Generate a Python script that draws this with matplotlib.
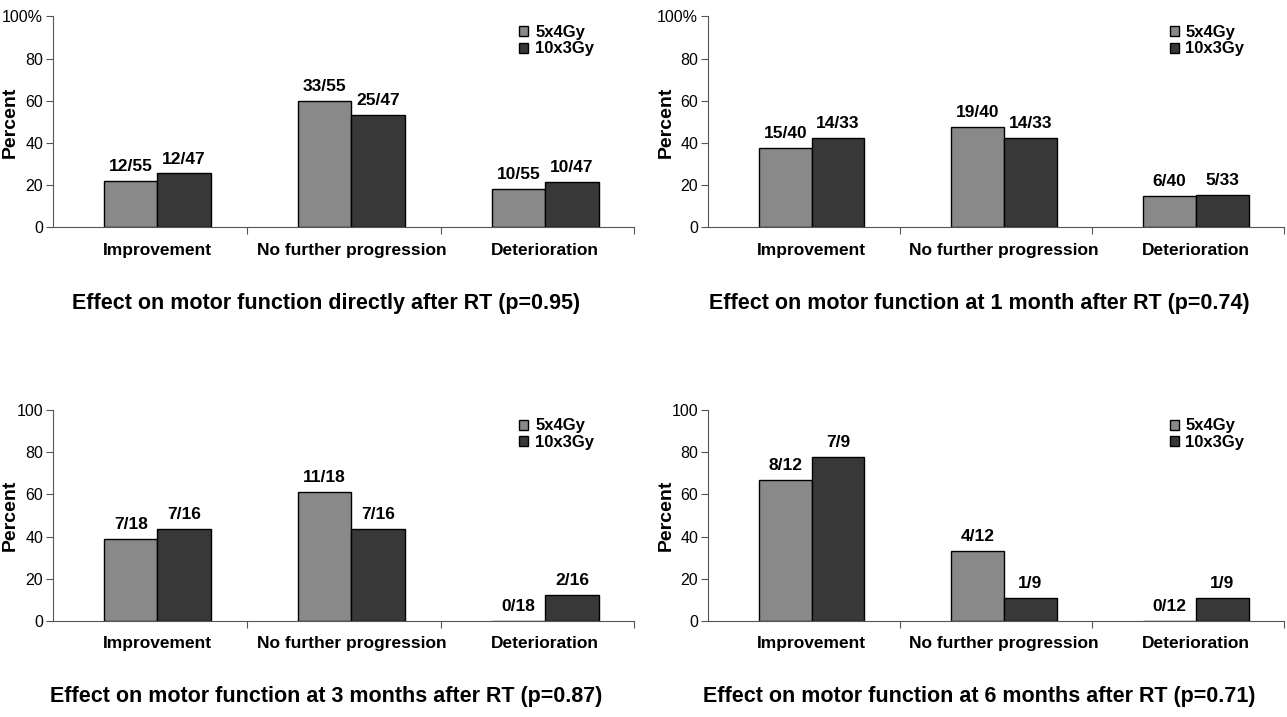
import numpy as np
import matplotlib.pyplot as plt

plt.rcParams['font.family'] = ['Liberation Sans', 'DejaVu Sans']
plt.rcParams['font.weight'] = 'bold'

categories = ['Improvement', 'No further progression', 'Deterioration']
series_names = ['5x4Gy', '10x3Gy']

# numerators / denominators per panel, series 5x4Gy then 10x3Gy
num_direct = [[12, 33, 10], [12, 25, 10]]
den_direct = [[55, 55, 55], [47, 47, 47]]
num_1m = [[15, 19, 6], [14, 14, 5]]
den_1m = [[40, 40, 40], [33, 33, 33]]
num_3m = [[7, 11, 0], [7, 7, 2]]
den_3m = [[18, 18, 18], [16, 16, 16]]
num_6m = [[8, 4, 0], [7, 1, 1]]
den_6m = [[12, 12, 12], [9, 9, 9]]

titles = ['Effect on motor function directly after RT (p=0.95)',
          'Effect on motor function at 1 month after RT (p=0.74)',
          'Effect on motor function at 3 months after RT (p=0.87)',
          'Effect on motor function at 6 months after RT (p=0.71)']
top_labels = ['100%', '100%', '100', '100']

panels = [(num_direct, den_direct), (num_1m, den_1m), (num_3m, den_3m), (num_6m, den_6m)]
colors = ['#898989', '#383838']

fig = plt.figure(figsize=(12.87, 7.17), dpi=100)
boxes = [[0.041, 0.683, 0.452, 0.294],
         [0.550, 0.683, 0.448, 0.294],
         [0.041, 0.134, 0.452, 0.294],
         [0.550, 0.134, 0.448, 0.294]]

for i, (nums, dens) in enumerate(panels):
    ax = fig.add_axes(boxes[i])
    x = np.arange(len(categories))
    w = 0.275
    for s in range(2):
        vals = 100.0 * np.array(nums[s]) / np.array(dens[s])
        pos = x + (s - 0.5) * w + 0.04
        ax.bar(pos, vals, w, color=colors[s], edgecolor='black', linewidth=1.0,
               label=series_names[s])
        for p, v, n, d in zip(pos, vals, nums[s], dens[s]):
            ax.annotate(f'{n}/{d}', (p, v), xytext=(0, 5), textcoords='offset points',
                        ha='center', va='bottom', fontsize=12.5, fontweight='bold')
    ax.set_xlim(-0.5, 2.5)
    ax.set_ylim(0, 100)
    ax.set_yticks([0, 20, 40, 60, 80, 100])
    ax.set_yticklabels(['0', '20', '40', '60', '80', top_labels[i]])
    ax.set_xticks([0.5, 1.5, 2.5])
    ax.set_xticklabels([])
    ax.set_xticks(x + 0.04, minor=True)
    ax.set_xticklabels(categories, minor=True, fontsize=12.5, fontweight='bold')
    ax.tick_params(axis='x', which='minor', length=0, pad=11)
    ax.tick_params(axis='x', which='major', length=5, direction='out', color='#555555')
    ax.tick_params(axis='y', length=5, color='#555555', labelsize=11.5, pad=2)
    for lab in ax.get_yticklabels():
        lab.set_fontweight('normal')
    for sp in ['top', 'right']:
        ax.spines[sp].set_visible(False)
    for sp in ['left', 'bottom']:
        ax.spines[sp].set_color('#555555')
    ax.set_ylabel('Percent', fontsize=14, fontweight='bold')
    ax.yaxis.set_label_coords(-0.058, 0.5)
    ax.legend(loc='upper right', frameon=False, fontsize=12, handlelength=0.55,
              handleheight=0.55, handletextpad=0.4, labelspacing=0.1, borderpad=0,
              bbox_to_anchor=(0.945, 1.0))
    ax.text(0.47, -0.36, titles[i], transform=ax.transAxes, ha='center', va='center',
            fontsize=15.5, fontweight='bold')

fig.savefig('out.png', dpi=100)
